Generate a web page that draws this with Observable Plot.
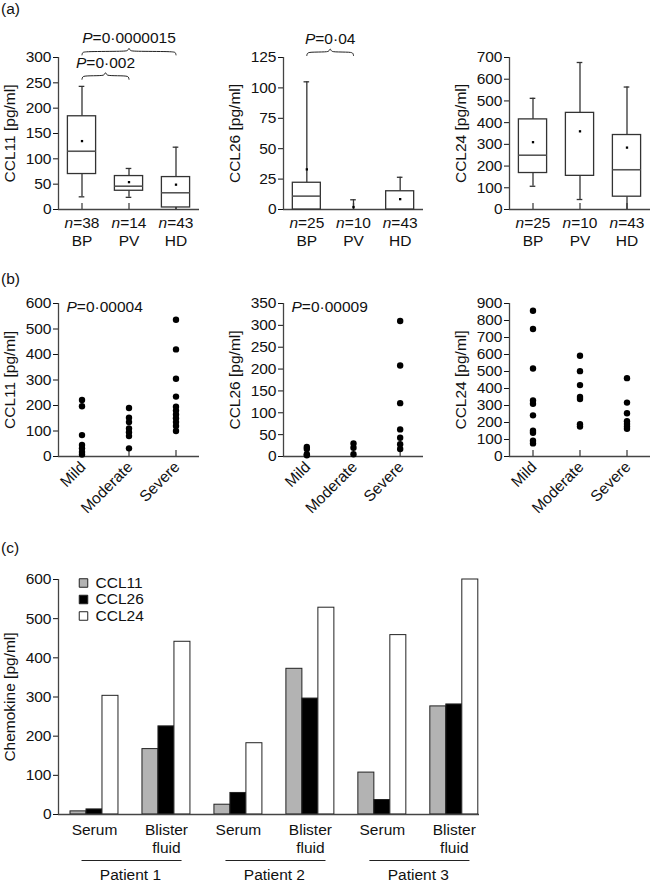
<!DOCTYPE html>
<html><head><meta charset="utf-8">
<script src="https://cdn.jsdelivr.net/npm/d3@7"></script>
<script src="https://cdn.jsdelivr.net/npm/@observablehq/plot@0.6"></script>
<style>
body{margin:0;background:#fff;}
#root{position:relative;width:651px;height:884px;overflow:hidden;background:#fff;font-family:'Liberation Sans',Arial,Helvetica,sans-serif;color:#111;}
.panel-label{position:absolute;font-size:15.5px;line-height:1;left:1px;}
#root svg{position:absolute;overflow:visible;background:transparent;max-width:none;}
</style></head><body><div id="root"></div>
<script>
// ---------- DATA ----------
// (a) box plots (summary statistics)
const groups = ["BP", "PV", "HD"];
const boxChemokines = ["CCL11", "CCL26", "CCL24"];
const boxN    = [[38, 14, 43], [25, 10, 43], [25, 10, 43]];
const boxLow  = [[25, 24, 0], [0, 0, 0], [107, 46, 0]];
const boxQ1   = [[70, 37, 4], [0, 0, 0], [168, 155, 59]];
const boxMed  = [[115, 46, 33], [11, 0, 0], [250, 155, 183]];
const boxQ3   = [[184, 66, 64], [22, 0, 15], [415, 445, 343]];
const boxHigh = [[243, 81, 123], [105, 8, 26.5], [512, 677, 564]];
const boxMean = [[135, 54, 49], [33, 2, 8.5], [310, 360, 285]];
const boxYMax = [300, 125, 700];
const boxYTicks = [
  [0, 50, 100, 150, 200, 250, 300],
  [0, 25, 50, 75, 100, 125],
  [0, 100, 200, 300, 400, 500, 600, 700]
];
// significance brackets in (a)
const bracketPanel = [0, 0, 1];
const bracketFrom  = [0, 0, 0];
const bracketTo    = [1, 2, 1];
const bracketY     = [264, 312, 129.5];
const bracketLabel = ["P=0·002", "P=0·0000015", "P=0·04"];

// (b) scatter by severity
const severity = ["Mild", "Moderate", "Severe"];
const sevCCL11 = [[222, 197, 84, 45, 32, 18, 8], [190, 152, 135, 110, 95, 80, 32], [536, 420, 305, 235, 195, 180, 165, 150, 135, 120, 100]];
const sevCCL26 = [[22, 17, 5, 3], [30, 20, 5], [310, 208, 122, 62, 43, 28, 17]];
const sevCCL24 = [[857, 750, 518, 330, 310, 242, 152, 140, 93, 77], [593, 502, 420, 350, 338, 190, 176], [461, 317, 254, 207, 191, 177, 163]];
const sevYMax = [600, 350, 900];
const sevYTicks = [
  [0, 100, 200, 300, 400, 500, 600],
  [0, 50, 100, 150, 200, 250, 300, 350],
  [0, 100, 200, 300, 400, 500, 600, 700, 800, 900]
];
const sevP = ["P=0·00004", "P=0·00009", null];

// (c) bars
const sampleLabels = ["Serum", "Blister\nfluid", "Serum", "Blister\nfluid", "Serum", "Blister\nfluid"];
const barCCL11 = [8, 167, 25, 372, 107, 276];
const barCCL26 = [13, 225, 55, 296, 37, 281];
const barCCL24 = [303, 441, 182, 528, 458, 600];
const patients = ["Patient 1", "Patient 2", "Patient 3"];
const barSeries = ["CCL11", "CCL26", "CCL24"];
const barYTicks = [0, 100, 200, 300, 400, 500, 600];

// ---------- STYLE ----------
const FONT = "'Liberation Sans', Arial, Helvetica, sans-serif";
const FS = 15.5;
const AXIS = "#444";
const BOX = "#333";
const seriesFill = ["#b3b3b3", "#000000", "#ffffff"];
const root = document.getElementById("root");
const NS = "http://www.w3.org/2000/svg";

function italicize(svg) {
  svg.querySelectorAll("text, tspan").forEach(el => {
    for (const node of Array.from(el.childNodes)) {
      if (node.nodeType === 3 && /^[nP]=/.test(node.nodeValue)) {
        const it = document.createElementNS(NS, "tspan");
        it.setAttribute("font-style", "italic");
        it.textContent = node.nodeValue[0];
        el.insertBefore(it, node);
        node.nodeValue = node.nodeValue.slice(1);
      }
    }
  });
}
function place(svg, left, top) {
  italicize(svg);
  svg.style.left = left + "px";
  svg.style.top = top + "px";
  root.appendChild(svg);
}
function panelLabel(t, top) {
  const d = document.createElement("div");
  d.className = "panel-label"; d.textContent = t; d.style.top = top + "px";
  root.appendChild(d);
}
function frameMarks(yticks, label, xmin) {
  return [
    Plot.axisY(yticks, {tickSize: 5, tickPadding: 2, fontSize: FS, label: null}),
    Plot.ruleX([xmin], {stroke: AXIS, strokeWidth: 1.3}),
    Plot.ruleY([0], {stroke: AXIS, strokeWidth: 1.3}),
    Plot.text([label], {text: d => d, frameAnchor: "left", textAnchor: "middle", lineAnchor: "middle", rotate: -90, dx: -48, fontSize: FS})
  ];
}
function bracePoints(k, x0, x1, y, pxX, pxY) {
  const xm = (x0 + x1) / 2;
  const P = (xu, dxp, dyp) => ({k, x: xu + dxp / pxX, y: y + dyp / pxY});
  return [P(x0, 0, -3.5), P(x0, 0.4, -1.2), P(x0, 2.5, 0), P(xm, -3, 0), P(xm, -1, 1), P(xm, 0, 4),
          P(xm, 1, 1), P(xm, 3, 0), P(x1, -2.5, 0), P(x1, -0.4, -1.2), P(x1, 0, -3.5)];
}

const colLayout = [
  {left: 0, width: 217, ml: 58, mr: 18},
  {left: 225, width: 217, ml: 58, mr: 19},
  {left: 451, width: 200, ml: 58, mr: 1}
];
const idx3 = [0, 1, 2];

// ---------- (a) ----------
boxChemokines.forEach((chem, p) => {
  const L = colLayout[p];
  const top = 0, height = 250, mt = 57, mb = 41;
  const innerW = L.width - L.ml - L.mr, innerH = height - mt - mb;
  const pxX = innerW / 3, pxY = innerH / boxYMax[p];
  const rows = groups.map((g, i) => ({i, g, n: boxN[p][i], low: boxLow[p][i], q1: boxQ1[p][i],
    med: boxMed[p][i], q3: boxQ3[p][i], high: boxHigh[p][i], mean: boxMean[p][i]}));
  const br = bracketLabel.map((lab, k) => ({k, p: bracketPanel[k], from: bracketFrom[k], to: bracketTo[k], y: bracketY[k], lab}))
    .filter(d => d.p === p);
  const braceData = br.flatMap(d => bracePoints(d.k, d.from, d.to, d.y, pxX, pxY));
  const BW = 0.3, CW = 0.06;
  const svg = Plot.plot({
    width: L.width, height, marginLeft: L.ml, marginRight: L.mr, marginTop: mt, marginBottom: mb,
    x: {domain: [-0.5, 2.5], axis: null},
    y: {domain: [0, boxYMax[p]]},
    style: {fontFamily: FONT, fontSize: FS + "px", color: "#111", background: "transparent", overflow: "visible"},
    marks: [
      ...frameMarks(boxYTicks[p], `${chem} [pg/ml]`, -0.5),
      Plot.ruleX(idx3, {x: d => d, y1: 0, y2: 6 / pxY, stroke: AXIS, strokeWidth: 1.3}),
      Plot.ruleX(rows, {x: "i", y1: "low", y2: "q1", stroke: BOX, strokeWidth: 1.3}),
      Plot.ruleX(rows, {x: "i", y1: "q3", y2: "high", stroke: BOX, strokeWidth: 1.3}),
      Plot.ruleY(rows, {y: "high", x1: d => d.i - CW, x2: d => d.i + CW, stroke: BOX, strokeWidth: 1.3}),
      Plot.ruleY(rows.filter(d => d.low > 0), {y: "low", x1: d => d.i - CW, x2: d => d.i + CW, stroke: BOX, strokeWidth: 1.3}),
      Plot.rect(rows.filter(d => d.q3 > d.q1), {x1: d => d.i - BW, x2: d => d.i + BW, y1: "q1", y2: "q3", fill: "white", stroke: BOX, strokeWidth: 1.3}),
      Plot.ruleY(rows.filter(d => d.med > d.q1), {y: "med", x1: d => d.i - BW, x2: d => d.i + BW, stroke: "#555", strokeWidth: 1.6}),
      Plot.dot(rows, {x: "i", y: "mean", symbol: "square", r: 1.3, fill: "#000"}),
      Plot.text(rows, {x: "i", frameAnchor: "bottom", text: d => `n=${d.n}\n${d.g}`, textAnchor: "middle", lineAnchor: "top", dy: 6, lineHeight: 1.16, fontSize: FS}),
      Plot.line(braceData, {x: "x", y: "y", z: "k", curve: "basis", stroke: "#222", strokeWidth: 1}),
      Plot.text(br, {x: d => (d.from + d.to) / 2, y: "y", text: "lab", dy: -13, fontSize: FS})
    ]
  });
  place(svg, L.left, top);
});

// ---------- (b) ----------
const sevData = [sevCCL11, sevCCL26, sevCCL24];
boxChemokines.forEach((chem, p) => {
  const L = colLayout[p];
  const top = 270, height = 250, mt = 33, mb = 64;
  const innerH = height - mt - mb;
  const pxY = innerH / sevYMax[p];
  const pts = sevData[p].flatMap((vals, i) => vals.map(v => ({i, v})));
  const svg = Plot.plot({
    width: L.width, height, marginLeft: L.ml, marginRight: L.mr, marginTop: mt, marginBottom: mb,
    x: {domain: [-0.5, 2.5], axis: null},
    y: {domain: [0, sevYMax[p]]},
    style: {fontFamily: FONT, fontSize: FS + "px", color: "#111", background: "transparent", overflow: "visible"},
    marks: [
      ...frameMarks(sevYTicks[p], `${chem} [pg/ml]`, -0.5),
      Plot.ruleX(idx3, {x: d => d, y1: 0, y2: 6 / pxY, stroke: AXIS, strokeWidth: 1.3}),
      Plot.dot(pts, {x: "i", y: "v", r: 3.2, fill: "#000"}),
      Plot.text(idx3, {x: d => d, frameAnchor: "bottom", text: d => severity[d], rotate: -45, textAnchor: "end", lineAnchor: "middle", dx: 1, dy: 8, fontSize: FS}),
      ...(sevP[p] ? [Plot.text([sevP[p]], {text: d => d, frameAnchor: "top-left", textAnchor: "start", lineAnchor: "middle", dx: 8, dy: 4, fontSize: FS})] : [])
    ]
  });
  place(svg, L.left, top);
});

// ---------- (c) ----------
{
  const top = 560, width = 500, height = 324, ml = 58, mr = 21, mt = 19, mb = 70;
  const barVals = [barCCL11, barCCL26, barCCL24];
  const gIdx = sampleLabels.map((s, g) => g);
  const barMarks = barSeries.map((s, k) =>
    Plot.rect(gIdx, {x1: g => g - 1 / 3 + k * 2 / 9, x2: g => g - 1 / 3 + (k + 1) * 2 / 9, y1: 0, y2: g => barVals[k][g],
      fill: seriesFill[k], stroke: "#222", strokeWidth: 1}));
  const legendMarks = barSeries.flatMap((s, k) => [
    Plot.dot([s], {frameAnchor: "top-left", dx: 25, dy: 3.5 + k * 16.5, symbol: "square", r: 4.8, fill: seriesFill[k], stroke: "#222", strokeWidth: 1}),
    Plot.text([s], {text: d => d, frameAnchor: "top-left", textAnchor: "start", lineAnchor: "middle", dx: 37, dy: 3.5 + k * 16.5, fontSize: FS})
  ]);
  const pat = patients.map((p, j) => ({p, x1: 2 * j - 0.18, x2: 2 * j + 1 + 0.21, xm: 2 * j + 0.5}));
  const svg = Plot.plot({
    width, height, marginLeft: ml, marginRight: mr, marginTop: mt, marginBottom: mb,
    x: {domain: [-0.5, 5.35], axis: null},
    y: {domain: [0, 600]},
    style: {fontFamily: FONT, fontSize: FS + "px", color: "#111", background: "transparent", overflow: "visible"},
    marks: [
      ...barMarks,
      ...frameMarks(barYTicks, "Chemokine [pg/ml]", -0.5),
      ...legendMarks,
      Plot.text(gIdx, {x: g => g, frameAnchor: "bottom", text: g => sampleLabels[g], textAnchor: "middle", lineAnchor: "top", dy: 8, lineHeight: 1.16, fontSize: FS}),
      Plot.link(pat, {x1: "x1", x2: "x2", y1: 0, y2: 0, dy: 46, stroke: "#222", strokeWidth: 1}),
      Plot.text(pat, {x: "xm", frameAnchor: "bottom", text: "p", textAnchor: "middle", lineAnchor: "top", dy: 54, fontSize: FS})
    ]
  });
  place(svg, 0, top);
}

panelLabel("(a)", 1);
panelLabel("(b)", 271);
panelLabel("(c)", 540);
</script>
</body></html>
